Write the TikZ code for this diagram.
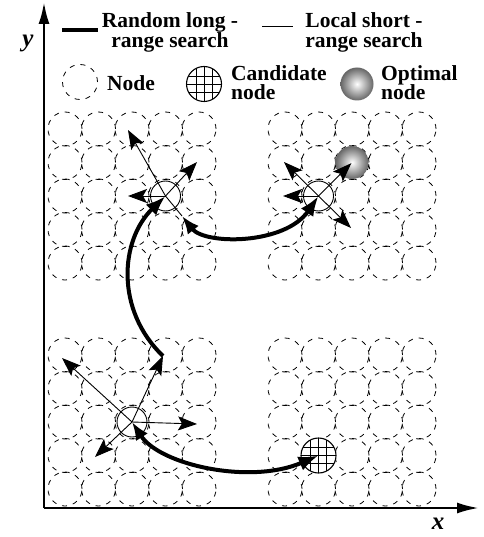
\documentclass[tikz,border=0pt]{standalone}
\usepackage{fontspec}
\setmainfont{Liberation Serif}
\usetikzlibrary{arrows.meta,shadings}
\begin{document}
\begin{tikzpicture}[x=1pt,y=-1pt,
  gridcirc/.style={draw=black,line width=0.8pt,dash pattern=on 5pt off 6pt},
  searchnode/.style={circle,draw=black,line width=0.9pt,minimum size=30pt,inner sep=0pt},
  candnode/.style={circle,draw=black,fill=white,line width=1.1pt,minimum size=35pt,inner sep=0pt,
    path picture={
      \foreach \d in {-8,0,8}{
        \draw[line width=0.9pt] ([xshift=\d pt]path picture bounding box.north) -- ([xshift=\d pt]path picture bounding box.south);
        \draw[line width=0.9pt] ([yshift=\d pt]path picture bounding box.west) -- ([yshift=\d pt]path picture bounding box.east);
      }}},
  optnode/.style={circle,inner color=white,outer color=black!60,minimum size=33pt,inner sep=0pt},
  shortarrow/.style={line width=0.9pt,-{Stealth[length=19pt,width=14pt,inset=4pt]}},
  longarrow/.style={line width=4pt,-{Latex[length=20pt,width=15pt]}},
  longboth/.style={line width=4pt,{Latex[length=18pt,width=14pt]}-{Latex[length=20pt,width=15pt]}},
  axis/.style={line width=2.6pt,-{Latex[length=22pt,width=11pt]}},
  txt/.style={font=\bfseries\fontsize{21.5}{19.5}\selectfont,inner sep=0pt},
  axlabel/.style={font=\bfseries\itshape\fontsize{25}{25}\selectfont,inner sep=0pt}
]
\path[use as bounding box] (0,0) rectangle (483,537);

% four 5x5 blocks of dashed node circles
\foreach \gx/\gy in {65/129, 285/129, 65/355, 285/355}{
  \foreach \i in {0,...,4}{
    \foreach \j in {0,...,4}{
      \draw[gridcirc] (\gx+\i*33.5, \gy+\j*33.5) circle[radius=17pt];
    }}}

% axes
\coordinate (o) at (44,508);
\coordinate (ytip) at (44,2);
\coordinate (xtip) at (479,508);
\draw[axis] (o) -- (ytip);
\draw[axis] (o) -- (xtip);
\node[axlabel] (ylab) at (28,43) {y};
\node[axlabel] (xlab) at (438,524) {x};

% legend
\coordinate (lgA1) at (62,30);
\coordinate (lgA2) at (98,30);
\draw[line width=4.5pt] (lgA1) -- (lgA2);
\node[txt,align=center] (lgAtext) at (170,32.5) {Random long -\\range search};
\coordinate (lgB1) at (262,27);
\coordinate (lgB2) at (293,27);
\draw[line width=1pt] (lgB1) -- (lgB2);
\node[txt,align=center] (lgBtext) at (364,32.5) {Local short -\\range search};
\draw[gridcirc] (80,82) circle[radius=17.5pt];
\node[txt,anchor=base west] (lgnode) at (107,91) {Node};
\node[candnode] (candleg) at (204,84) {};
\node[txt,anchor=north west,align=left] (lgcand) at (231,65) {Candidate\\node};
\node[optnode] (optleg) at (357,84) {};
\node[txt,anchor=north west,align=left] (lgopt) at (381,65) {Optimal\\node};

% search nodes
\node[searchnode] (b1) at (132,422) {};
\node[searchnode] (t1) at (165.5,196) {};
\node[searchnode] (t2) at (318.5,196) {};
\node[candnode] (cand) at (318.5,455.5) {};
\node[optnode] (opt) at (352,162.5) {};

% local short-range search around the lower-left node
\coordinate (b1ul) at (62,358);
\coordinate (b1r) at (197,424);
\coordinate (b1dl) at (95,457);
\coordinate (kink) at (163,356);
\draw[shortarrow] (b1.center) -- (b1ul);
\draw[shortarrow] (b1.center) -- (b1r);
\draw[shortarrow] (b1.center) -- (b1dl);
\draw[shortarrow] (b1.center) -- (kink);

% local short-range search around the upper-left node
\coordinate (t1ul) at (128,130);
\coordinate (t1ur) at (197,162);
\coordinate (t1l) at (128,196);
\coordinate (t1dr) at (182,216);
\draw[shortarrow] (t1.center) -- (t1ul);
\draw[shortarrow] (t1.center) -- (t1ur);
\draw[shortarrow] (t1.center) -- (t1l);
\draw[line width=0.9pt] (t1.center) -- (t1dr);

% local short-range search around the upper-right node
\coordinate (t2ul) at (284,162);
\coordinate (t2l) at (283,196);
\coordinate (t2dr) at (351,228);
\draw[shortarrow] (t2.center) -- (t2ul);
\draw[shortarrow] (t2.center) -- (t2l);
\draw[shortarrow] (t2.center) -- (t2dr);
\draw[shortarrow,shorten >=1pt] (t2.center) -- (opt.center);

% random long-range search
\draw[longboth] (b1.center) .. controls (160,465) and (250,485) .. (cand.center);
\draw[longarrow] (kink) .. controls (115,310) and (120,240) .. (t1.center);
\draw[longboth] (t1dr) .. controls (205,245) and (285,245) .. (t2.center);
\end{tikzpicture}
\end{document}
